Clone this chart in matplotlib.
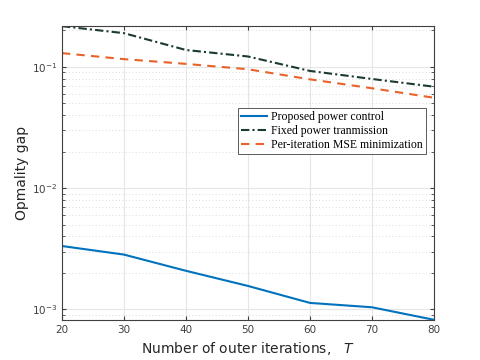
import numpy as np
import matplotlib
matplotlib.use('Agg')
import matplotlib.pyplot as plt

# data
T = [20, 30, 40, 50, 60, 70, 80]
proposed = [3.33e-3, 2.83e-3, 2.08e-3, 1.56e-3, 1.13e-3, 1.04e-3, 8.2e-4]
fixed = [0.217, 0.19, 0.138, 0.122, 0.0927, 0.0796, 0.0687]
per_iter = [0.13, 0.116, 0.106, 0.0957, 0.079, 0.0667, 0.0557]

labels = ['Proposed power control', 'Fixed power tranmission',
          'Per-iteration MSE minimization']

fig = plt.figure(figsize=(4.8, 3.6), dpi=100)
ax = fig.add_axes([0.129, 0.111, 0.775, 0.817])

ax.plot(T, proposed, '-', color='#0072BD', lw=1.5, label=labels[0])
ax.plot(T, fixed, '-.', color='#1b3b2b', lw=1.5, dashes=(4, 1.5, 1, 1.5), label=labels[1])
ax.plot(T, per_iter, '--', color='#E8622A', lw=1.5, dashes=(4, 3), label=labels[2])

ax.set_yscale('log')
ax.set_xlim(20, 80)
ax.set_ylim(8.16e-4, 0.218)
ax.set_xticks(T)

#MATLAB-like grid and ticks
ax.grid(True, which='major', color='#e6e6e6', lw=0.8, ls='-')
ax.grid(True, which='minor', color='#d0d0d0', lw=0.6, ls=(0, (1, 3)))
ax.set_axisbelow(True)
ax.tick_params(which='both', direction='in', top=True, right=True,
               colors='#404040', labelsize=7.5)
ax.tick_params(which='major', length=3)
ax.tick_params(which='minor', length=2)
for s in ax.spines.values():
    s.set_color('#404040')
    s.set_linewidth(0.8)

ax.set_xlabel('Number of outer iterations,   $T$', fontsize=10, color='#262626')
ax.set_ylabel('Opmality gap', fontsize=10, color='#262626', labelpad=2)

leg = ax.legend(loc='upper left', bbox_to_anchor=(0.473, 0.722),
                prop={'family': 'Liberation Serif', 'size': 8.5},
                handlelength=2.2, handletextpad=0.3, borderpad=0.3,
                labelspacing=0.15, fancybox=False, framealpha=1,
                borderaxespad=0)
leg.get_frame().set_edgecolor('#404040')
leg.get_frame().set_linewidth(0.6)

fig.savefig('out.png', dpi=100)
